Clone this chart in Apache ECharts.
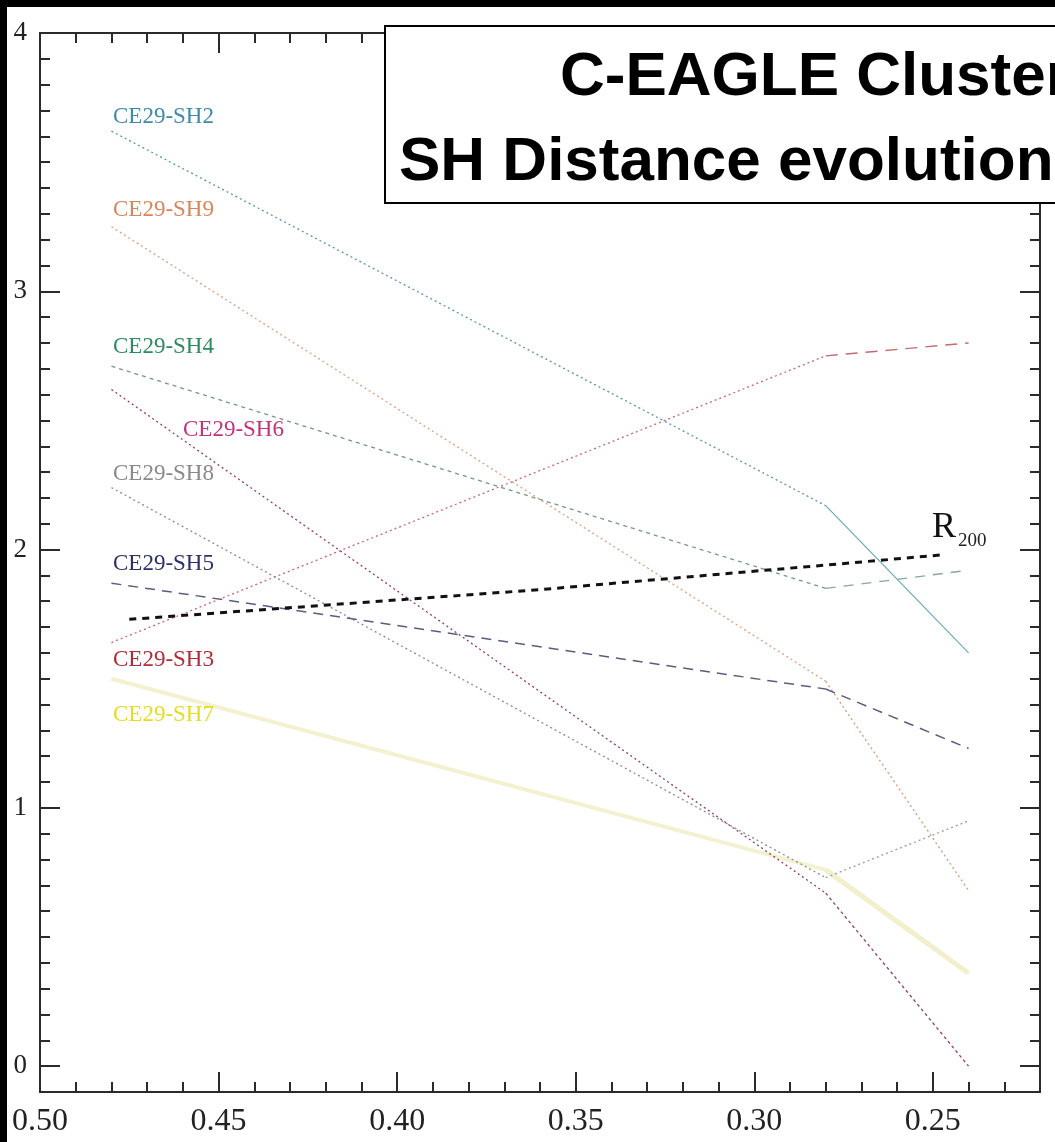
<!DOCTYPE html>
<html>
<head>
<meta charset="utf-8">
<title>C-EAGLE Cluster – SH Distance evolution</title>
<script src="https://cdn.jsdelivr.net/npm/echarts@6/dist/echarts.min.js"></script>
<style>
  html, body { margin: 0; padding: 0; background: #fff; }
  #chart { width: 1055px; height: 1142px; }
</style>
</head>
<body>
<div id="chart"></div>
<script>
// Snapshot redshifts shared by every subhalo track
const redshift = [0.48, 0.28, 0.24];

// Distance of each subhalo from the cluster centre at those redshifts
const sh2 = [3.62, 2.17, 1.60];
const sh9 = [3.25, 1.49, 0.68];
const sh4 = [2.71, 1.85, 1.92];
const sh6 = [2.62, 0.67, 0.00];
const sh8 = [2.24, 0.73, 0.95];
const sh5 = [1.87, 1.46, 1.23];
const sh3 = [1.64, 2.75, 2.80];
const sh7 = [1.50, 0.76, 0.36];

// R200 of the cluster
const r200Redshift = [0.475, 0.36, 0.28, 0.247];
const r200 = [1.73, 1.845, 1.94, 1.98];

// Subhalo names
const names = ['CE29-SH2', 'CE29-SH9', 'CE29-SH4', 'CE29-SH6', 'CE29-SH8', 'CE29-SH5', 'CE29-SH3', 'CE29-SH7'];

// Axis tick values
const xMajorTicks = [0.25, 0.30, 0.35, 0.40, 0.45, 0.50];
const xMinorTicks = [0.22, 0.23, 0.24, 0.26, 0.27, 0.28, 0.29, 0.31, 0.32, 0.33, 0.34, 0.36, 0.37, 0.38, 0.39,
                     0.41, 0.42, 0.43, 0.44, 0.46, 0.47, 0.48, 0.49];
const yMajorTicks = [0, 1, 2, 3, 4];
const yMinorTicks = [-0.1, 0.1, 0.2, 0.3, 0.4, 0.5, 0.6, 0.7, 0.8, 0.9, 1.1, 1.2, 1.3, 1.4, 1.5, 1.6, 1.7, 1.8, 1.9,
                     2.1, 2.2, 2.3, 2.4, 2.5, 2.6, 2.7, 2.8, 2.9, 3.1, 3.2, 3.3, 3.4, 3.5, 3.6, 3.7, 3.8, 3.9];

const tracks = [sh2, sh9, sh4, sh6, sh8, sh5, sh3, sh7];

// Line styles: [early segment, late segment]
const styles = [
  [{ color: '#5e94a6', width: 1.3, type: [2, 3] }, { color: '#6aa9b8', width: 1.2, type: 'solid' }],
  [{ color: '#d8a185', width: 1.3, type: [2, 3] }, { color: '#cf9a7e', width: 1.3, type: [2, 3] }],
  [{ color: '#7a9488', width: 1.3, type: [4, 4] }, { color: '#8aa89a', width: 1.3, type: [10, 8] }],
  [{ color: '#8e3f68', width: 1.3, type: [2, 3] }, { color: '#8e3f68', width: 1.3, type: [3, 3] }],
  [{ color: '#8c8c8c', width: 1.3, type: [2, 3] }, { color: '#9a9aa6', width: 1.3, type: [2, 3] }],
  [{ color: '#5a5e7c', width: 1.5, type: [10, 7] }, { color: '#5a5e7c', width: 1.5, type: [10, 7] }],
  [{ color: '#c46a72', width: 1.3, type: [2, 3] }, { color: '#c46a72', width: 1.4, type: [12, 8] }],
  [{ color: '#f4f1d0', width: 4, type: 'solid' }, { color: '#f2efcc', width: 5, type: 'solid' }]
];

const labelColors = ['#3f8aa6', '#d4875e', '#2f8a5f', '#c0357a', '#8a8a8a', '#2c3068', '#b02c3a', '#e3dc2a'];
// Label anchor (left x, centre y) in pixels
const labelPos = [[113, 117], [113, 210], [113, 347], [183, 430], [113, 474], [113, 564], [113, 660], [113, 715]];

const series = [];
tracks.forEach(function (vals, i) {
  const early = [[redshift[0], vals[0]], [redshift[1], vals[1]]];
  const late = [[redshift[1], vals[1]], [redshift[2], vals[2]]];
  series.push({
    type: 'line', name: names[i], data: early, symbol: 'none', silent: true,
    lineStyle: styles[i][0], z: i === 7 ? 1 : 3
  });
  series.push({
    type: 'line', name: names[i] + ' late', data: late, symbol: 'none', silent: true,
    lineStyle: styles[i][1], z: i === 7 ? 1 : 3
  });
});
series.push({
  type: 'line', name: 'R200', symbol: 'none', silent: true, z: 4,
  data: r200Redshift.map(function (x, k) { return [x, r200[k]]; }),
  lineStyle: { color: '#111', width: 3, type: [7, 6] }
});

const serif = "'Liberation Serif', 'DejaVu Serif', serif";
const sans = "'Liberation Sans', Arial, sans-serif";

function xAxisDef(pos, ticks, len, showLabel, showLine) {
  return {
    type: 'value', position: pos, min: 0.22, max: 0.50, inverse: true,
    axisLine: { show: showLine, onZero: false, lineStyle: { color: '#2a2a2a', width: 2 } },
    axisTick: { show: true, inside: true, length: len, customValues: ticks,
                lineStyle: { color: '#2a2a2a', width: 2 } },
    axisLabel: showLabel ? {
      show: true, customValues: xMajorTicks, margin: 14,
      fontFamily: serif, fontSize: 32, color: '#222',
      formatter: function (v) { return v.toFixed(2); }
    } : { show: false },
    splitLine: { show: false }
  };
}
function yAxisDef(pos, ticks, len, showLabel, showLine) {
  return {
    type: 'value', position: pos, min: -0.1, max: 4,
    axisLine: { show: showLine, onZero: false, lineStyle: { color: '#2a2a2a', width: 2 } },
    axisTick: { show: true, inside: true, length: len, customValues: ticks,
                lineStyle: { color: '#2a2a2a', width: 2 } },
    axisLabel: showLabel ? {
      show: true, customValues: yMajorTicks, margin: 13,
      fontFamily: serif, fontSize: 27, color: '#222',
      formatter: function (v) { return String(Math.round(v)); }
    } : { show: false },
    splitLine: { show: false }
  };
}

const graphics = [
  // dark frame strips along the top and left edges
  { type: 'rect', left: 0, top: 0, shape: { width: 1055, height: 7 }, style: { fill: '#000' }, z: 100 },
  { type: 'rect', left: 0, top: 0, shape: { width: 7, height: 1142 }, style: { fill: '#000' }, z: 100 },
  // title panel
  { type: 'rect', shape: { x: 385, y: 26, width: 720, height: 177 },
    style: { fill: '#fff', stroke: '#000', lineWidth: 2 }, z: 50 },
  { type: 'text', x: 560, y: 47, z: 51,
    style: { text: 'C-EAGLE Cluster', fontFamily: sans, fontWeight: 'bold', fontSize: 62,
             fill: '#000', verticalAlign: 'top' } },
  { type: 'text', x: 399, y: 132, z: 51,
    style: { text: 'SH Distance evolution', fontFamily: sans, fontWeight: 'bold', fontSize: 62,
             fill: '#000', verticalAlign: 'top' } },
  // R200 annotation
  { type: 'text', x: 932, y: 510, z: 20,
    style: { text: 'R', fontFamily: serif, fontSize: 36, fill: '#111', verticalAlign: 'top' } },
  { type: 'text', x: 958, y: 532, z: 20,
    style: { text: '200', fontFamily: serif, fontSize: 19, fill: '#222', verticalAlign: 'top' } }
];
names.forEach(function (n, i) {
  graphics.push({
    type: 'text', x: labelPos[i][0], y: labelPos[i][1], z: 20,
    style: { text: n, fontFamily: serif, fontSize: 23, fill: labelColors[i], verticalAlign: 'middle' }
  });
});

const chart = echarts.init(document.getElementById('chart'), null, { renderer: 'canvas' });
chart.setOption({
  animation: false,
  backgroundColor: '#fff',
  grid: { left: 40, right: 15, top: 33, bottom: 50, containLabel: false, outerBoundsMode: 'none' },
  xAxis: [
    xAxisDef('bottom', xMajorTicks, 20, true, true),
    xAxisDef('bottom', xMinorTicks, 10, false, false),
    xAxisDef('top', xMajorTicks, 20, false, true),
    xAxisDef('top', xMinorTicks, 10, false, false)
  ],
  yAxis: [
    yAxisDef('left', yMajorTicks, 20, true, true),
    yAxisDef('left', yMinorTicks, 10, false, false),
    yAxisDef('right', yMajorTicks, 20, false, true),
    yAxisDef('right', yMinorTicks, 10, false, false)
  ],
  series: series,
  graphic: graphics
});
</script>
</body>
</html>
